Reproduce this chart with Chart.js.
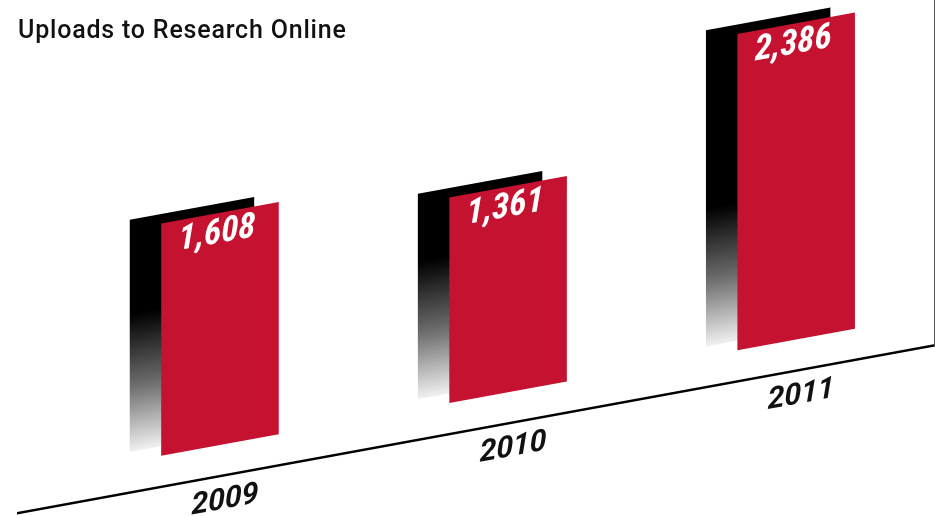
<!DOCTYPE html>
<html>
<head>
<meta charset="utf-8">
<script src="https://cdn.jsdelivr.net/npm/chart.js@4.4.1/dist/chart.umd.min.js"></script>
<style>
  html, body { margin: 0; padding: 0; background: #fff; }
  #wrap { position: relative; width: 935px; height: 516px; overflow: hidden; }
  #wrap canvas { position: absolute; left: 0; top: 0; }
  #title { position: absolute; left: 18px; top: 17px; font: 500 25px Roboto, sans-serif;
           letter-spacing: 0.8px; color: #111; white-space: nowrap; line-height: 1; }
</style>
</head>
<body>
<div id="wrap">
  <canvas id="c" width="935" height="516"></canvas>
  <div id="title">Uploads to Research Online</div>
</div>
<script>
// ---- data ----
const categories = ['2009', '2010', '2011'];
const uploads = [1608, 1361, 2386];

// ---- value axis range (hidden axis) ----
const yMin = -825;
const yMax = 2885;
const barBase = -540;

// ---- perspective styling ----
const SKEW = -0.183;
const SHIFT_Y = 55;
const X_START = -0.7011;
const X_RANGE = 3.1795;
const RED = '#c41230';

const skewPlugin = {
  id: 'skew',
  beforeDraw(chart) {
    const ctx = chart.ctx;
    ctx.save();
    ctx.transform(1, SKEW, 0, 1, 0, SHIFT_Y);
  },
  afterDraw(chart) {
    chart.ctx.restore();
  }
};

const shadowShift = {
  id: 'shadowShift',
  beforeDatasetDraw(chart, args) {
    if (args.index === 1) {
      chart.ctx.save();
      chart.ctx.translate(-28, -9.5);
    }
  },
  afterDatasetDraw(chart, args) {
    if (args.index === 1) chart.ctx.restore();
  }
};

const valueLabels = {
  id: 'valueLabels',
  afterDatasetsDraw(chart) {
    const ctx = chart.ctx;
    const meta = chart.getDatasetMeta(0);
    ctx.save();
    ctx.fillStyle = '#fff';
    ctx.textAlign = 'center';
    ctx.textBaseline = 'middle';
    ctx.font = 'italic bold 35px "Liberation Sans Narrow", "Roboto Condensed", Roboto, sans-serif';
    meta.data.forEach((el, i) => {
      const txt = uploads[i].toLocaleString('en-US');
      ctx.fillText(txt, el.x - 3, el.y + 21);
    });
    ctx.restore();
  }
};

function shadowGradient(context) {
  const chart = context.chart;
  const g = chart.ctx.createLinearGradient(0, 292.5, 0, 437.5);
  g.addColorStop(0, '#000');
  g.addColorStop(0.5, '#6e6e6e');
  g.addColorStop(1, '#ffffff');
  return g;
}

new Chart(document.getElementById('c'), {
  type: 'bar',
  data: {
    labels: categories,
    datasets: [
      {
        label: 'Uploads',
        data: uploads,
        base: barBase,
        backgroundColor: RED,
        borderWidth: 0,
        grouped: false,
        categoryPercentage: 1,
        barPercentage: 0.408,
        order: 0,
        clip: false
      },
      {
        label: 'Shadow',
        data: uploads,
        base: barBase,
        backgroundColor: shadowGradient,
        borderWidth: 0,
        grouped: false,
        categoryPercentage: 1,
        barPercentage: 0.432,
        order: 1,
        clip: false
      }
    ]
  },
  options: {
    responsive: false,
    animation: false,
    events: [],
    layout: { padding: { left: 18, right: 1, top: 60, bottom: 3 } },
    plugins: {
      legend: { display: false },
      title: { display: false },
      tooltip: { enabled: false }
    },
    scales: {
      x: {
        type: 'category',
        offset: true,
        grid: { display: false, drawTicks: false },
        border: { display: true, color: '#000', width: 2.5 },
        ticks: {
          color: '#111',
          padding: 8,
          labelOffset: 5,
          maxRotation: 0,
          autoSkip: false,
          font: { family: 'Roboto', size: 30, weight: 'bold', style: 'italic' }
        },
        afterBuildTicks(scale) {
          scale._startValue = X_START;
          scale._valueRange = X_RANGE;
        }
      },
      y: {
        position: 'right',
        min: yMin,
        max: yMax,
        grid: { display: false, drawTicks: false },
        ticks: { display: false },
        border: { display: true, color: '#555', width: 1 }
      }
    }
  },
  plugins: [skewPlugin, shadowShift, valueLabels]
});
</script>
</body>
</html>
